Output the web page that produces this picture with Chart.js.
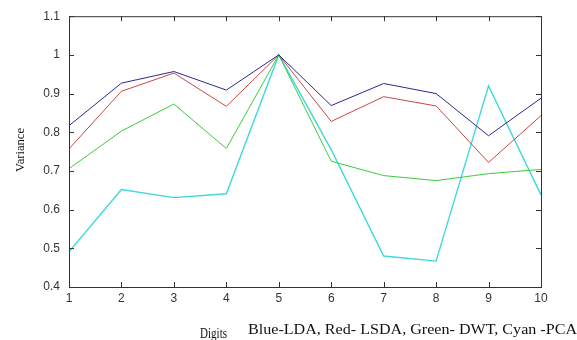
<!DOCTYPE html>
<html><head><meta charset="utf-8">
<script src="https://cdn.jsdelivr.net/npm/chart.js@4/dist/chart.umd.min.js"></script>
<style>html,body{margin:0;padding:0;background:#fff}#w{width:577px;height:340px}</style>
</head><body><div id="w"><canvas id="c" width="577" height="340"></canvas></div>
<script>
const digits = [1,2,3,4,5,6,7,8,9,10];
const lda  = [0.817, 0.927, 0.957, 0.909, 1.0, 0.869, 0.926, 0.900, 0.791, 0.888];
const lsda = [0.757, 0.906, 0.953, 0.867, 1.0, 0.828, 0.892, 0.868, 0.722, 0.843];
const dwt  = [0.706, 0.803, 0.873, 0.758, 1.0, 0.725, 0.688, 0.675, 0.693, 0.704];
const pca  = [0.491, 0.652, 0.631, 0.641, 1.0, 0.755, 0.480, 0.467, 0.920, 0.638];
const yTicks = [0.4,0.5,0.6,0.7,0.8,0.9,1,1.1];
const xLabel = 'Digits';
const yLabel = 'Variance';
const legendText = 'Blue-LDA, Red- LSDA, Green- DWT, Cyan -PCA';

const pts = arr => arr.map((v,i)=>({x:digits[i], y:v}));
const ds = (label, arr, color, w) => ({label, data: pts(arr), borderColor: color, backgroundColor: color, borderWidth: w, pointRadius: 0, tension: 0, fill: false});

const boxPlugin = {
  id: 'box',
  afterDraw(chart){
    const {ctx, chartArea:a, scales:{x, y}} = chart;
    ctx.save();
    ctx.strokeStyle = '#333'; ctx.lineWidth = 1;
    ctx.strokeRect(a.left+0.5, a.top+0.5, a.right-a.left, a.bottom-a.top);
    ctx.beginPath();
    digits.forEach(d=>{ const px = Math.round(x.getPixelForValue(d))+0.5;
      ctx.moveTo(px, a.bottom); ctx.lineTo(px, a.bottom-5);
      ctx.moveTo(px, a.top); ctx.lineTo(px, a.top+5); });
    yTicks.forEach(t=>{ const py = Math.round(y.getPixelForValue(t))+0.5;
      ctx.moveTo(a.left, py); ctx.lineTo(a.left+5, py);
      ctx.moveTo(a.right, py); ctx.lineTo(a.right-5, py); });
    ctx.stroke();
    // texts
    ctx.fillStyle = '#111';
    const fitText = (txt, font, x0, base, targetW) => {
      ctx.save(); ctx.font = font; const w = ctx.measureText(txt).width;
      ctx.translate(x0, base); ctx.scale(targetW / w, 1);
      ctx.textBaseline = 'alphabetic'; ctx.textAlign = 'left';
      ctx.fillText(txt, 0, 0); ctx.restore();
    };
    fitText(xLabel, '15px "Liberation Serif", serif', 200, 338, 27);
    fitText(legendText, '14px "Liberation Serif", serif', 248, 334, 329);
    ctx.save(); ctx.font = '14px "Liberation Serif", serif';
    const w = ctx.measureText(yLabel).width;
    ctx.translate(24, 150); ctx.rotate(-Math.PI/2); ctx.scale(44 / w, 0.9);
    ctx.textAlign = 'center'; ctx.textBaseline = 'alphabetic';
    ctx.fillText(yLabel, 0, 0); ctx.restore();
    ctx.restore();
  }
};

new Chart(document.getElementById('c'), {
  type: 'line',
  data: { datasets: [
    ds('LDA', lda, '#2a2a8c', 1),
    ds('LSDA', lsda, '#c84848', 1),
    ds('DWT', dwt, '#3ccc3c', 1),
    ds('PCA', pca, '#40d8d8', 1.4)
  ]},
  options: {
    responsive: false, animation: false,
    layout: { padding: { left: 0, right: 36, top: 15, bottom: 0 } },
    plugins: { legend: { display: false }, tooltip: { enabled: false } },
    scales: {
      x: { type: 'linear', min: 1, max: 10,
        afterBuildTicks: s => { s.ticks = digits.map(v=>({value:v})); },
        afterFit: s => { s.height = 53; },
        grid: { display: false, drawTicks: false }, border: { display: false },
        ticks: { padding: 4, color: '#333', font: { family: '"Liberation Sans", Arial, sans-serif', size: 12 }, maxRotation: 0, autoSkip: false, callback: v => String(v) } },
      y: { min: 0.4, max: 1.1,
        afterBuildTicks: s => { s.ticks = yTicks.map(v=>({value:v})); },
        afterFit: s => { s.width = 69; },
        grid: { display: false, drawTicks: false }, border: { display: false },
        ticks: { padding: 9, color: '#333', font: { family: '"Liberation Sans", Arial, sans-serif', size: 12 }, callback: v => String(Math.round(v*10)/10) } }
    }
  },
  plugins: [boxPlugin]
});
</script></body></html>
